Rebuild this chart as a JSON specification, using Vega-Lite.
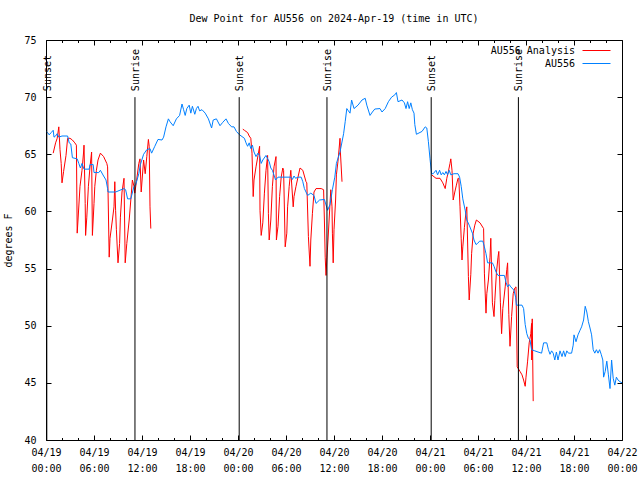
{
  "$schema": "https://vega.github.io/schema/vega-lite/v6.json",
  "width": 576,
  "height": 400,
  "autosize": {"type": "none"},
  "padding": {"left": 46, "top": 40, "right": 18, "bottom": 40},
  "background": "white",
  "title": {"text": "Dew Point for AU556 on 2024-Apr-19 (time in UTC)", "font": "DejaVu Sans Mono", "fontSize": 10, "fontWeight": "normal", "color": "black", "offset": 11},
  "datasets": {
    "obs": [
      {"h":0.0,"v":67.0},{"h":0.2,"v":66.9},{"h":0.4,"v":66.7},{"h":0.65,"v":66.9},{"h":0.9,"v":67.1},{"h":1.0,"v":66.5},{"h":1.2,"v":66.6},{"h":1.4,"v":66.8},{"h":1.6,"v":66.5},{"h":2.0,"v":66.6},{"h":2.7,"v":66.6},{"h":2.9,"v":66.0},{"h":3.1,"v":65.9},{"h":3.3,"v":64.7},{"h":3.9,"v":64.6},{"h":4.1,"v":64.2},{"h":4.3,"v":63.8},{"h":4.5,"v":64.2},{"h":4.75,"v":63.7},{"h":5.4,"v":63.7},{"h":5.5,"v":64.1},{"h":5.9,"v":64.1},{"h":6.0,"v":63.4},{"h":6.6,"v":63.4},{"h":6.8,"v":63.6},{"h":7.2,"v":63.1},{"h":7.5,"v":62.75},{"h":7.7,"v":62.0},{"h":7.75,"v":61.7},{"h":8.7,"v":61.7},{"h":9.75,"v":62.0},{"h":9.95,"v":61.9},{"h":10.2,"v":61.1},{"h":10.6,"v":61.1},{"h":11.0,"v":62.2},{"h":11.2,"v":62.3},{"h":11.6,"v":63.3},{"h":11.8,"v":64.1},{"h":12.2,"v":65.0},{"h":12.6,"v":65.4},{"h":13.0,"v":65.5},{"h":13.2,"v":65.1},{"h":13.6,"v":65.7},{"h":14.0,"v":66.3},{"h":14.5,"v":66.25},{"h":14.7,"v":66.5},{"h":15.0,"v":67.4},{"h":15.3,"v":68.1},{"h":15.5,"v":67.85},{"h":15.9,"v":67.5},{"h":16.3,"v":68.1},{"h":16.7,"v":68.4},{"h":17.0,"v":69.4},{"h":17.2,"v":68.9},{"h":17.4,"v":68.4},{"h":17.6,"v":69.0},{"h":17.9,"v":69.3},{"h":18.1,"v":68.6},{"h":18.3,"v":69.2},{"h":18.6,"v":68.5},{"h":18.8,"v":69.0},{"h":19.0,"v":69.2},{"h":19.2,"v":68.8},{"h":19.5,"v":68.9},{"h":19.9,"v":68.6},{"h":20.3,"v":68.1},{"h":20.7,"v":67.3},{"h":20.9,"v":68.0},{"h":21.3,"v":68.1},{"h":21.75,"v":67.5},{"h":22.1,"v":67.8},{"h":22.5,"v":68.1},{"h":22.8,"v":67.7},{"h":23.2,"v":67.4},{"h":23.5,"v":67.4},{"h":23.8,"v":67.0},{"h":24.2,"v":66.7},{"h":24.8,"v":66.4},{"h":25.0,"v":66.0},{"h":25.2,"v":65.7},{"h":25.4,"v":66.0},{"h":25.6,"v":65.5},{"h":25.8,"v":65.8},{"h":26.0,"v":65.2},{"h":26.25,"v":64.8},{"h":26.5,"v":65.1},{"h":26.7,"v":64.9},{"h":26.9,"v":64.2},{"h":27.1,"v":64.5},{"h":27.5,"v":64.9},{"h":27.9,"v":64.35},{"h":28.1,"v":63.8},{"h":28.3,"v":63.6},{"h":28.7,"v":62.75},{"h":29.0,"v":63.0},{"h":30.0,"v":63.0},{"h":30.6,"v":63.0},{"h":30.8,"v":62.8},{"h":31.0,"v":63.1},{"h":31.2,"v":62.9},{"h":31.5,"v":63.0},{"h":31.9,"v":63.0},{"h":32.1,"v":62.6},{"h":32.3,"v":62.0},{"h":32.7,"v":61.4},{"h":33.1,"v":61.6},{"h":33.5,"v":61.4},{"h":33.75,"v":60.7},{"h":34.2,"v":61.0},{"h":34.8,"v":61.05},{"h":35.2,"v":60.1},{"h":35.5,"v":60.6},{"h":35.8,"v":61.9},{"h":36.1,"v":63.0},{"h":36.3,"v":64.2},{"h":36.75,"v":65.2},{"h":37.2,"v":66.8},{"h":37.4,"v":67.85},{"h":37.6,"v":69.0},{"h":37.8,"v":68.8},{"h":38.0,"v":68.6},{"h":38.2,"v":69.75},{"h":38.5,"v":69.0},{"h":39.0,"v":69.3},{"h":39.5,"v":69.75},{"h":39.9,"v":69.9},{"h":40.1,"v":69.3},{"h":40.5,"v":68.4},{"h":40.8,"v":68.7},{"h":41.1,"v":68.96},{"h":41.75,"v":69.0},{"h":42.0,"v":68.7},{"h":42.4,"v":69.0},{"h":42.8,"v":69.6},{"h":43.2,"v":70.0},{"h":43.6,"v":70.2},{"h":43.8,"v":70.4},{"h":44.0,"v":69.6},{"h":44.5,"v":69.75},{"h":44.8,"v":69.5},{"h":45.0,"v":69.0},{"h":45.2,"v":69.6},{"h":45.4,"v":69.0},{"h":45.6,"v":69.5},{"h":45.8,"v":68.9},{"h":46.0,"v":68.6},{"h":46.1,"v":67.6},{"h":46.3,"v":66.75},{"h":47.0,"v":67.0},{"h":47.4,"v":67.4},{"h":47.6,"v":67.3},{"h":47.8,"v":66.1},{"h":48.0,"v":64.6},{"h":48.2,"v":63.3},{"h":48.4,"v":63.3},{"h":48.75,"v":63.6},{"h":48.95,"v":63.2},{"h":49.2,"v":63.6},{"h":49.4,"v":63.2},{"h":49.6,"v":63.4},{"h":49.8,"v":63.2},{"h":50.0,"v":63.5},{"h":50.2,"v":63.2},{"h":50.4,"v":63.6},{"h":50.6,"v":63.2},{"h":51.0,"v":63.3},{"h":51.5,"v":63.3},{"h":51.7,"v":63.0},{"h":51.9,"v":62.2},{"h":52.1,"v":61.1},{"h":52.4,"v":60.1},{"h":52.6,"v":59.25},{"h":52.9,"v":58.8},{"h":53.3,"v":58.1},{"h":53.5,"v":57.5},{"h":53.75,"v":57.1},{"h":53.95,"v":57.2},{"h":54.2,"v":57.4},{"h":54.6,"v":57.4},{"h":54.8,"v":56.9},{"h":55.0,"v":56.3},{"h":55.2,"v":55.5},{"h":55.8,"v":55.5},{"h":56.0,"v":55.2},{"h":56.25,"v":54.7},{"h":56.5,"v":54.4},{"h":57.3,"v":54.4},{"h":57.5,"v":53.8},{"h":57.7,"v":53.4},{"h":57.9,"v":53.6},{"h":58.1,"v":53.4},{"h":58.5,"v":53.1},{"h":58.7,"v":52.5},{"h":58.8,"v":51.8},{"h":59.5,"v":51.8},{"h":59.7,"v":51.5},{"h":59.9,"v":50.1},{"h":60.1,"v":49.3},{"h":60.3,"v":48.9},{"h":60.5,"v":48.75},{"h":60.7,"v":47.9},{"h":61.1,"v":47.8},{"h":61.5,"v":47.7},{"h":61.95,"v":47.6},{"h":62.2,"v":48.5},{"h":62.6,"v":48.5},{"h":62.8,"v":47.9},{"h":63.0,"v":47.5},{"h":63.2,"v":47.8},{"h":63.4,"v":47.6},{"h":63.6,"v":47.0},{"h":63.8,"v":47.7},{"h":64.0,"v":47.0},{"h":64.25,"v":47.8},{"h":64.5,"v":47.3},{"h":64.7,"v":47.8},{"h":64.9,"v":47.3},{"h":65.1,"v":47.8},{"h":65.3,"v":47.6},{"h":65.7,"v":47.6},{"h":65.9,"v":48.3},{"h":66.0,"v":49.2},{"h":66.25,"v":48.6},{"h":66.5,"v":49.2},{"h":66.75,"v":49.6},{"h":66.95,"v":49.9},{"h":67.2,"v":50.5},{"h":67.4,"v":51.7},{"h":67.6,"v":51.2},{"h":67.8,"v":50.35},{"h":68.0,"v":49.8},{"h":68.2,"v":49.2},{"h":68.4,"v":47.9},{"h":68.6,"v":47.6},{"h":68.8,"v":47.9},{"h":69.0,"v":47.6},{"h":69.2,"v":47.9},{"h":69.4,"v":47.5},{"h":69.6,"v":47.0},{"h":69.7,"v":45.5},{"h":69.9,"v":46.0},{"h":70.1,"v":46.9},{"h":70.3,"v":45.7},{"h":70.5,"v":44.5},{"h":70.7,"v":47.0},{"h":70.9,"v":45.4},{"h":71.1,"v":44.8},{"h":71.3,"v":45.5},{"h":71.5,"v":45.25},{"h":71.75,"v":45.1},{"h":72.0,"v":45.0}
    ],
    "ana": [
      {"h":0.9,"v":65.1,"seg":1},{"h":1.2,"v":66.0,"seg":1},{"h":1.4,"v":66.4,"seg":1},{"h":1.6,"v":67.4,"seg":1},{"h":1.75,"v":65.4,"seg":1},{"h":1.9,"v":64.2,"seg":1},{"h":2.0,"v":62.5,"seg":1},{"h":2.2,"v":63.5,"seg":1},{"h":2.5,"v":64.9,"seg":1},{"h":2.7,"v":66.4,"seg":1},{"h":3.0,"v":66.4,"seg":1},{"h":3.3,"v":66.25,"seg":1},{"h":3.6,"v":66.0,"seg":1},{"h":3.8,"v":65.8,"seg":1},{"h":3.9,"v":58.1,"seg":1},{"h":4.0,"v":59.25,"seg":1},{"h":4.25,"v":62.2,"seg":1},{"h":4.5,"v":63.6,"seg":1},{"h":4.7,"v":65.2,"seg":1},{"h":4.75,"v":65.8,"seg":1},{"h":4.9,"v":60.7,"seg":1},{"h":4.95,"v":57.9,"seg":1},{"h":5.1,"v":59.5,"seg":1},{"h":5.3,"v":62.2,"seg":1},{"h":5.5,"v":63.9,"seg":1},{"h":5.7,"v":65.2,"seg":1},{"h":5.8,"v":57.9,"seg":1},{"h":6.0,"v":60.7,"seg":1},{"h":6.1,"v":62.2,"seg":1},{"h":6.3,"v":63.6,"seg":1},{"h":6.5,"v":64.5,"seg":1},{"h":6.8,"v":65.1,"seg":1},{"h":7.2,"v":64.8,"seg":1},{"h":7.4,"v":64.5,"seg":1},{"h":7.6,"v":64.2,"seg":1},{"h":7.7,"v":63.9,"seg":1},{"h":7.9,"v":56.0,"seg":1},{"h":8.0,"v":57.65,"seg":1},{"h":8.3,"v":59.25,"seg":1},{"h":8.5,"v":60.4,"seg":1},{"h":8.6,"v":62.6,"seg":1},{"h":8.7,"v":60.1,"seg":1},{"h":8.8,"v":58.4,"seg":1},{"h":9.0,"v":55.5,"seg":1},{"h":9.2,"v":57.2,"seg":1},{"h":9.3,"v":59.5,"seg":1},{"h":9.5,"v":61.7,"seg":1},{"h":9.75,"v":62.9,"seg":1},{"h":9.9,"v":55.5,"seg":1},{"h":10.1,"v":57.2,"seg":1},{"h":10.4,"v":59.25,"seg":1},{"h":10.6,"v":61.0,"seg":1},{"h":10.8,"v":62.75,"seg":1},{"h":11.0,"v":62.2,"seg":1},{"h":11.1,"v":61.6,"seg":1},{"h":11.3,"v":62.6,"seg":1},{"h":11.6,"v":64.2,"seg":1},{"h":11.75,"v":64.6,"seg":1},{"h":11.9,"v":61.7,"seg":1},{"h":12.2,"v":64.5,"seg":1},{"h":12.4,"v":63.3,"seg":1},{"h":12.6,"v":64.8,"seg":1},{"h":12.8,"v":66.3,"seg":1},{"h":12.9,"v":65.7,"seg":1},{"h":13.0,"v":60.4,"seg":1},{"h":13.1,"v":58.5,"seg":1},
      {"h":24.6,"v":67.2,"seg":2},{"h":24.8,"v":67.1,"seg":2},{"h":25.2,"v":66.9,"seg":2},{"h":25.4,"v":66.6,"seg":2},{"h":25.6,"v":66.4,"seg":2},{"h":25.75,"v":65.1,"seg":2},{"h":25.9,"v":61.3,"seg":2},{"h":26.0,"v":62.75,"seg":2},{"h":26.25,"v":63.9,"seg":2},{"h":26.5,"v":64.9,"seg":2},{"h":26.7,"v":65.7,"seg":2},{"h":26.75,"v":60.1,"seg":2},{"h":26.9,"v":57.9,"seg":2},{"h":27.1,"v":59.0,"seg":2},{"h":27.3,"v":61.6,"seg":2},{"h":27.5,"v":63.6,"seg":2},{"h":27.7,"v":64.9,"seg":2},{"h":27.8,"v":59.8,"seg":2},{"h":27.9,"v":57.5,"seg":2},{"h":28.1,"v":59.25,"seg":2},{"h":28.3,"v":62.2,"seg":2},{"h":28.5,"v":63.9,"seg":2},{"h":28.75,"v":64.8,"seg":2},{"h":28.8,"v":57.5,"seg":2},{"h":29.0,"v":58.7,"seg":2},{"h":29.2,"v":61.3,"seg":2},{"h":29.4,"v":63.0,"seg":2},{"h":29.6,"v":63.8,"seg":2},{"h":29.7,"v":63.6,"seg":2},{"h":29.9,"v":56.9,"seg":2},{"h":30.1,"v":58.1,"seg":2},{"h":30.2,"v":60.4,"seg":2},{"h":30.4,"v":62.2,"seg":2},{"h":30.6,"v":63.6,"seg":2},{"h":30.9,"v":60.4,"seg":2},{"h":31.0,"v":61.3,"seg":2},{"h":31.25,"v":62.2,"seg":2},{"h":31.5,"v":63.0,"seg":2},{"h":31.75,"v":63.8,"seg":2},{"h":32.1,"v":63.6,"seg":2},{"h":32.5,"v":62.6,"seg":2},{"h":32.6,"v":62.5,"seg":2},{"h":32.8,"v":57.8,"seg":2},{"h":33.0,"v":55.2,"seg":2},{"h":33.1,"v":57.5,"seg":2},{"h":33.3,"v":59.8,"seg":2},{"h":33.5,"v":61.7,"seg":2},{"h":33.75,"v":62.0,"seg":2},{"h":34.4,"v":62.0,"seg":2},{"h":34.7,"v":61.9,"seg":2},{"h":34.8,"v":59.25,"seg":2},{"h":34.9,"v":56.0,"seg":2},{"h":35.0,"v":54.4,"seg":2},{"h":35.1,"v":55.75,"seg":2},{"h":35.25,"v":57.5,"seg":2},{"h":35.5,"v":60.7,"seg":2},{"h":35.6,"v":61.9,"seg":2},{"h":35.75,"v":60.4,"seg":2},{"h":35.8,"v":58.1,"seg":2},{"h":35.9,"v":55.5,"seg":2},{"h":36.0,"v":58.4,"seg":2},{"h":36.2,"v":61.0,"seg":2},{"h":36.3,"v":63.2,"seg":2},{"h":36.5,"v":64.4,"seg":2},{"h":36.75,"v":66.4,"seg":2},{"h":36.8,"v":65.2,"seg":2},{"h":37.0,"v":62.6,"seg":2},
      {"h":48.2,"v":63.2,"seg":3},{"h":48.75,"v":62.9,"seg":3},{"h":49.25,"v":62.9,"seg":3},{"h":49.6,"v":62.5,"seg":3},{"h":49.9,"v":62.0,"seg":3},{"h":50.1,"v":62.9,"seg":3},{"h":50.3,"v":63.5,"seg":3},{"h":50.5,"v":64.2,"seg":3},{"h":50.6,"v":64.6,"seg":3},{"h":50.75,"v":63.6,"seg":3},{"h":50.9,"v":61.0,"seg":3},{"h":51.1,"v":61.7,"seg":3},{"h":51.3,"v":62.3,"seg":3},{"h":51.5,"v":62.9,"seg":3},{"h":51.6,"v":62.9,"seg":3},{"h":51.75,"v":60.4,"seg":3},{"h":51.9,"v":57.6,"seg":3},{"h":52.0,"v":55.75,"seg":3},{"h":52.1,"v":56.9,"seg":3},{"h":52.3,"v":58.6,"seg":3},{"h":52.5,"v":60.0,"seg":3},{"h":52.6,"v":60.4,"seg":3},{"h":52.8,"v":54.3,"seg":3},{"h":52.9,"v":52.25,"seg":3},{"h":53.1,"v":54.5,"seg":3},{"h":53.2,"v":56.3,"seg":3},{"h":53.4,"v":58.1,"seg":3},{"h":53.6,"v":58.8,"seg":3},{"h":53.8,"v":59.25,"seg":3},{"h":54.25,"v":59.0,"seg":3},{"h":54.7,"v":58.5,"seg":3},{"h":54.8,"v":54.6,"seg":3},{"h":55.0,"v":51.1,"seg":3},{"h":55.1,"v":52.8,"seg":3},{"h":55.3,"v":54.0,"seg":3},{"h":55.5,"v":56.0,"seg":3},{"h":55.6,"v":57.65,"seg":3},{"h":55.8,"v":52.0,"seg":3},{"h":56.0,"v":50.8,"seg":3},{"h":56.1,"v":52.2,"seg":3},{"h":56.3,"v":54.6,"seg":3},{"h":56.5,"v":56.0,"seg":3},{"h":56.6,"v":56.5,"seg":3},{"h":56.8,"v":52.0,"seg":3},{"h":56.95,"v":49.3,"seg":3},{"h":57.1,"v":51.5,"seg":3},{"h":57.4,"v":53.4,"seg":3},{"h":57.6,"v":54.9,"seg":3},{"h":57.7,"v":55.5,"seg":3},{"h":57.85,"v":51.0,"seg":3},{"h":58.0,"v":48.2,"seg":3},{"h":58.2,"v":50.8,"seg":3},{"h":58.4,"v":52.8,"seg":3},{"h":58.6,"v":53.3,"seg":3},{"h":58.75,"v":53.4,"seg":3},{"h":58.9,"v":46.4,"seg":3},{"h":59.25,"v":46.0,"seg":3},{"h":59.5,"v":45.7,"seg":3},{"h":59.7,"v":45.25,"seg":3},{"h":59.9,"v":44.7,"seg":3},{"h":60.0,"v":45.5,"seg":3},{"h":60.2,"v":46.9,"seg":3},{"h":60.4,"v":48.5,"seg":3},{"h":60.6,"v":49.3,"seg":3},{"h":60.7,"v":50.2,"seg":3},{"h":60.72,"v":47.0,"seg":3},{"h":60.78,"v":50.6,"seg":3},{"h":60.9,"v":43.4,"seg":3}
    ],
    "sun": [
      {"h":0.1,"event":"Sunset"},{"h":11.12,"event":"Sunrise"},{"h":24.15,"event":"Sunset"},{"h":35.12,"event":"Sunrise"},{"h":48.15,"event":"Sunset"},{"h":59.05,"event":"Sunrise"}
    ]
  },
  "layer": [
    {
      "data": {"name": "ana"},
      "mark": {"type": "line", "strokeWidth": 1, "clip": true},
      "encoding": {
        "x": {"field": "h", "type": "quantitative", "scale": {"domain": [0, 72], "nice": false, "zero": false},
              "axis": {"orient": "bottom", "values": [0,6,12,18,24,30,36,42,48,54,60,66,72], "tickSize": -5, "labelPadding": 12, "labelBaseline": "top", "labelLineHeight": 16, "labelFlush": false, "labelOverlap": false, "labelExpr": "['04/' + (19 + floor(datum.value / 24)), (datum.value % 24 < 10 ? '0' : '') + (datum.value % 24) + ':00']", "title": null}},
        "y": {"field": "v", "type": "quantitative", "scale": {"domain": [40, 75], "nice": false, "zero": false},
              "axis": {"orient": "left", "values": [40,45,50,55,60,65,70,75], "tickSize": -5, "labelPadding": 15, "labelFlush": false, "title": "degrees F", "titlePadding": 10}},
        "detail": {"field": "seg", "type": "nominal"},
        "color": {"datum": "AU556 Analysis", "type": "nominal",
                  "scale": {"domain": ["AU556 Analysis", "AU556"], "range": ["#ff0000", "#0080ff"]},
                  "legend": {"orient": "none", "legendX": 543, "legendY": 3, "title": null, "symbolType": "M-2,0H2", "symbolSize": 196, "symbolStrokeWidth": 1, "symbolFillColor": "transparent", "labelAlign": "right", "labelOffset": -29, "padding": 0, "rowPadding": -1, "labelFont": "DejaVu Sans Mono", "labelFontSize": 10, "labelColor": "black"}}
      }
    },
    {
      "data": {"name": "obs"},
      "mark": {"type": "line", "strokeWidth": 1, "clip": true},
      "encoding": {
        "x": {"field": "h", "type": "quantitative", "axis": {"orient": "bottom", "values": [2,4,8,10,14,16,20,22,26,28,32,34,38,40,44,46,50,52,56,58,62,64,68,70], "tickSize": -2.5, "labels": false, "title": null}},
        "y": {"field": "v", "type": "quantitative", "axis": {"orient": "right", "values": [40,45,50,55,60,65,70,75], "tickSize": -5, "labels": false, "title": null}},
        "color": {"datum": "AU556", "type": "nominal"}
      }
    },
    {
      "data": {"name": "sun"},
      "mark": {"type": "rule", "color": "black", "strokeWidth": 1},
      "encoding": {
        "x": {"field": "h", "type": "quantitative", "axis": {"orient": "top", "values": [0,6,12,18,24,30,36,42,48,54,60,66,72], "tickSize": -5, "labels": false, "title": null}},
        "y": {"datum": 70, "type": "quantitative", "axis": null},
        "y2": {"datum": 40}
      }
    },
    {
      "data": {"name": "sun"},
      "mark": {"type": "text", "angle": 270, "align": "left", "baseline": "middle", "dx": 6, "dy": 1, "font": "DejaVu Sans Mono", "fontSize": 10, "color": "black"},
      "encoding": {
        "x": {"field": "h", "type": "quantitative", "axis": {"orient": "top", "values": [2,4,8,10,14,16,20,22,26,28,32,34,38,40,44,46,50,52,56,58,62,64,68,70], "tickSize": -2.5, "labels": false, "title": null}},
        "y": {"datum": 70, "type": "quantitative", "axis": null},
        "text": {"field": "event", "type": "nominal"}
      }
    }
  ],
  "resolve": {"axis": {"x": "independent", "y": "independent"}},
  "config": {
    "view": {"stroke": "black", "strokeWidth": 1},
    "axis": {"domain": false, "grid": false, "tickColor": "black", "tickWidth": 1, "labelFont": "DejaVu Sans Mono", "labelFontSize": 10, "labelColor": "black", "titleFont": "DejaVu Sans Mono", "titleFontSize": 10, "titleFontWeight": "normal", "titleColor": "black"},
    "text": {"font": "DejaVu Sans Mono"}
  }
}
